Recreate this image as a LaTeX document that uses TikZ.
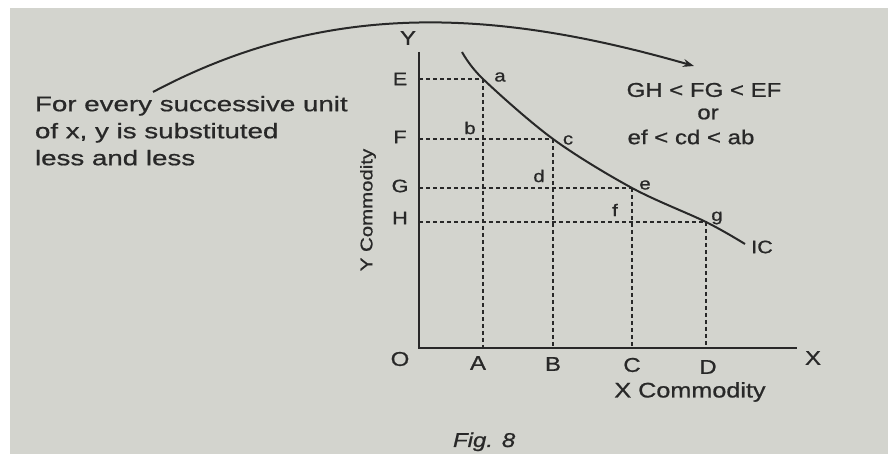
\documentclass[tikz,border=0pt]{standalone}
\usepackage{fontspec}
\setmainfont{Liberation Sans}[FakeStretch=1.2,FakeBold=0.8]
\newfontfamily\notefont{Liberation Sans}[FakeStretch=1.32,FakeBold=0.8]
\usetikzlibrary{arrows.meta,positioning}
\definecolor{paper}{RGB}{211,212,206}
\definecolor{ink}{RGB}{40,40,40}
\tikzset{every picture/.style={line width=2pt}}

\begin{document}
\begin{tikzpicture}[x=1pt,y=1pt,
    axis/.style={draw=ink,line width=2.4pt},
    icline/.style={draw=ink,line width=2pt},
    guide/.style={draw=ink,line width=1.6pt,dash pattern=on 4pt off 3pt},
    axlbl/.style={text=ink,inner sep=0pt,font=\fontsize{20}{20}\selectfont},
    lvlbl/.style={text=ink,inner sep=0pt,font=\fontsize{18}{18}\selectfont},
    ptlbl/.style={text=ink,inner sep=0pt,font=\fontsize{17}{17}\selectfont},
    txt/.style={text=ink,inner sep=0pt,font=\fontsize{20}{25}\selectfont}]
    \useasboundingbox (0,0) rectangle (888,454);
    \fill[white] (0,0) rectangle (888,454);
    \fill[paper] (10,0) rectangle (888,446);

    % axes
    \coordinate (O) at (419,106);
    \coordinate (Ytop) at (419,402);
    \coordinate (Xend) at (797,106);
    \draw[axis] (Ytop) -- (O) -- (Xend);

    % points on the curve
    \coordinate (a) at (483,375);
    \coordinate (c) at (553,315);
    \coordinate (e) at (632,266);
    \coordinate (g) at (706,232);
    \coordinate (icstart) at (462,402);
    \coordinate (icend) at (745,210);

    \foreach \p in {a,c,e,g} {
        \draw[guide] (O |- \p) -- (\p);
        \draw[guide] (\p) -- (\p |- O);
    }
    \draw[icline] plot[smooth,tension=0.55] coordinates {(icstart) (a) (c) (e) (g) (icend)};

    % axis labels
    \node[axlbl] (lY) at (408,416) {Y};
    \node[axlbl] (lX) at (813,96) {X};
    \node[axlbl] (lO) at (400,95) {O};
    \node[axlbl] (lA) at (478,91) {A};
    \node[axlbl] (lB) at (553,90) {B};
    \node[axlbl] (lC) at (632,89) {C};
    \node[axlbl] (lD) at (708,87) {D};
    \node[lvlbl] (lE) at (400,375) {E};
    \node[lvlbl] (lF) at (400,317) {F};
    \node[lvlbl] (lG) at (400,268) {G};
    \node[lvlbl] (lH) at (400,236) {H};

    % point labels
    \node[ptlbl] (la) at (500,377) {a};
    \node[ptlbl] (lb) at (470,326) {b};
    \node[ptlbl] (lc) at (568,314) {c};
    \node[ptlbl] (ld) at (539,278) {d};
    \node[ptlbl] (le) at (645,269) {e};
    \node[ptlbl] (lf) at (615,244) {f};
    \node[ptlbl] (lg) at (717,236) {g};
    \node[lvlbl] (lic) at (762,207) {IC};

    % commodity names
    \node[txt,font=\fontsize{21}{21}\selectfont] (xcom) at (690,62) {X Commodity};
    \node[txt,rotate=90,font=\fontsize{17}{17}\selectfont] (ycom) at (368,244) {Y Commodity};

    % notes
    \node[txt,anchor=north west,align=left,font=\notefont\fontsize{21}{27}\selectfont] (note) at (34,359)
        {For every successive unit\\of x, y is substituted\\less and less};
    \node[txt] (rel1) at (704,364) {GH < FG < EF};
    \node[txt] (rel2) at (708,340) {or};
    \node[txt] (rel3) at (691,317) {ef < cd < ab};
    \coordinate (arcstart) at (153,362);
    \coordinate (arcend) at (694,388);
    \draw[icline,-{Stealth[length=11pt,width=8pt]}] (arcstart) to[out=28,in=164,looseness=0.95] (arcend);

    \node[txt,anchor=base west,font=\fontsize{20}{20}\selectfont\itshape] (fig) at (452,7) {Fig. 8};
\end{tikzpicture}
\end{document}
